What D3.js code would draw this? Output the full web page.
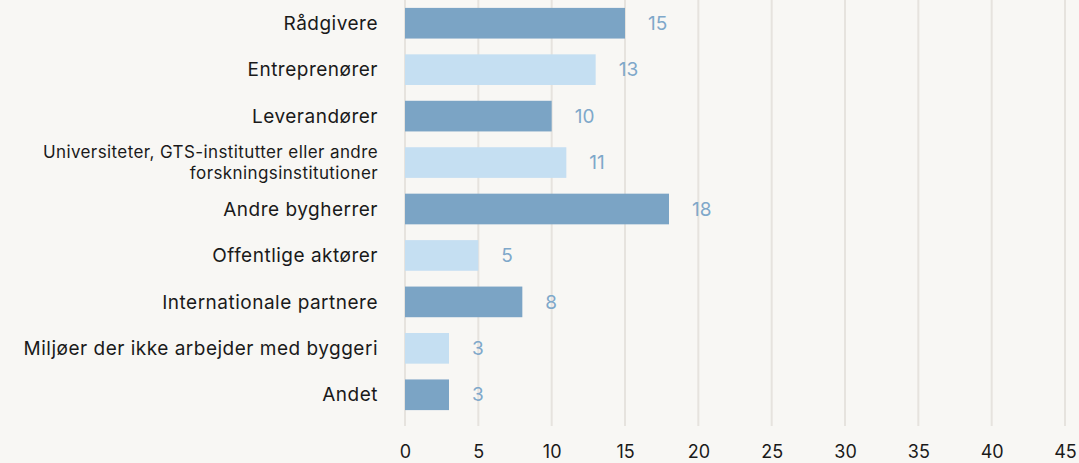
<!DOCTYPE html>
<html>
<head>
<meta charset="utf-8">
<script src="https://cdn.jsdelivr.net/npm/d3@7"></script>
<style>
  body { margin: 0; background: #f8f7f4; }
  #svg-container { width: 1079px; height: 463px; }
  text { font-family: Inter, "Open Sans", sans-serif; }
</style>
</head>
<body>
<div id="svg-container"></div>
<script>
// categories en waardes
const categories = [
    'Rådgivere',
    'Entreprenører',
    'Leverandører',
    'Universiteter, GTS-institutter eller andre|forskningsinstitutioner',
    'Andre bygherrer',
    'Offentlige aktører',
    'Internationale partnere',
    'Miljøer der ikke arbejder med byggeri',
    'Andet'
]
const values = [15, 13, 10, 11, 18, 5, 8, 3, 3]
const xTicks = [0, 5, 10, 15, 20, 25, 30, 35, 40, 45]

const data = categories.map((c, i) => ({ category: c, value: values[i] }))

const width = 1079
const height = 463
const margin = { top: 0, right: 14, bottom: 45, left: 405 }
const innerHeight = height - margin.top - margin.bottom

const svg = d3.select('#svg-container')
    .append('svg').attr('width', width).attr('height', height)

svg.append('rect').attr('width', width).attr('height', height).attr('fill', '#f8f7f4')

const g = svg.append('g')
    .attr('transform', `translate(${margin.left}, ${margin.top})`)

//schalen
const xScale = d3.scaleLinear()
    .domain([0, 45])
    .range([0, 660])
const yScale = d3.scaleBand()
    .domain(data.map(d => d.category))
    .range([0, innerHeight])
    .paddingInner(0.34)
    .paddingOuter(0.17)

//gridlijnen
g.selectAll('.grid').data(xTicks)
    .enter().append('line')
    .attr('x1', d => xScale(d)).attr('x2', d => xScale(d))
    .attr('y1', 0).attr('y2', innerHeight + 8)
    .attr('stroke', '#e6e3de').attr('stroke-width', 2)

//x as labels
const xAxis = g.append('g')
    .attr('transform', `translate(0, ${innerHeight + 40})`)
    .call(d3.axisBottom(xScale).tickValues(xTicks).tickSize(0).tickPadding(0))
xAxis.select('.domain').remove()
xAxis.selectAll('text')
    .attr('font-size', 18).attr('fill', '#1a1a1a')
    .attr('font-family', 'Inter, sans-serif')
    .attr('dy', 0)

//balken
g.selectAll('rect.bar').data(data)
    .enter().append('rect')
    .attr('class', 'bar')
    .attr('x', 0)
    .attr('y', d => yScale(d.category))
    .attr('width', d => xScale(d.value))
    .attr('height', yScale.bandwidth())
    .attr('fill', (d, i) => i % 2 === 0 ? '#7ba4c5' : '#c5dff2')

//waarde labels
g.selectAll('text.value').data(data)
    .enter().append('text')
    .attr('class', 'value')
    .attr('x', d => xScale(d.value) + 23)
    .attr('y', d => yScale(d.category) + yScale.bandwidth() / 2)
    .attr('dy', '0.35em')
    .attr('font-size', 19)
    .attr('fill', '#7fa8ca')
    .text(d => d.value)

//categorie labels
const labels = g.selectAll('text.cat').data(data)
    .enter().append('text')
    .attr('class', 'cat')
    .attr('text-anchor', 'end')
    .attr('fill', '#1a1a1a')
    .attr('x', -27)
    .attr('y', d => yScale(d.category) + yScale.bandwidth() / 2)

labels.each(function (d) {
    const lines = d.category.split('|')
    const t = d3.select(this)
    if (lines.length === 1) {
        t.attr('font-size', 19).attr('letter-spacing', 0.5).attr('dy', '0.35em').text(lines[0])
    } else {
        t.attr('font-size', 17).attr('letter-spacing', 0.4)
        lines.forEach((l, i) => {
            t.append('tspan')
                .attr('x', -27)
                .attr('dy', i === 0 ? '-0.25em' : '1.2em')
                .text(l)
        })
    }
})
</script>
</body>
</html>
